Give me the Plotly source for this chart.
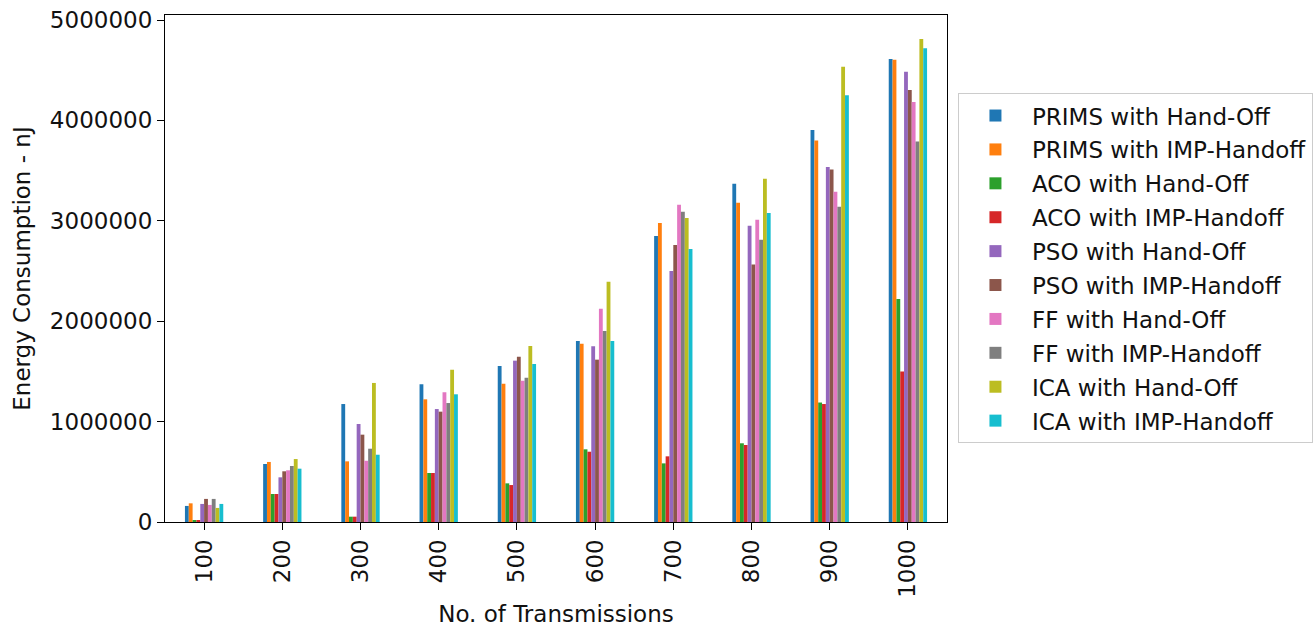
import plotly.graph_objects as go

categories = ["100", "200", "300", "400", "500", "600", "700", "800", "900", "1000"]

series_names = [
    "PRIMS with Hand-Off",
    "PRIMS with IMP-Handoff",
    "ACO with Hand-Off",
    "ACO with IMP-Handoff",
    "PSO with Hand-Off",
    "PSO with IMP-Handoff",
    "FF with Hand-Off",
    "FF with IMP-Handoff",
    "ICA with Hand-Off",
    "ICA with IMP-Handoff",
]

prims_handoff = [160000, 578000, 1175000, 1371000, 1554000, 1803000, 2849000, 3370000, 3905000, 4612000]
prims_imp     = [186000, 598000, 604000, 1222000, 1378000, 1776000, 2978000, 3180000, 3800000, 4605000]
aco_handoff   = [20000, 279000, 53000, 488000, 385000, 724000, 584000, 784000, 1190000, 2220000]
aco_imp       = [20000, 279000, 53000, 488000, 368000, 700000, 654000, 767000, 1175000, 1500000]
pso_handoff   = [180000, 445000, 976000, 1125000, 1607000, 1750000, 2500000, 2951000, 3535000, 4485000]
pso_imp       = [230000, 505000, 870000, 1099000, 1647000, 1617000, 2759000, 2566000, 3510000, 4303000]
ff_handoff    = [170000, 515000, 610000, 1292000, 1408000, 2125000, 3160000, 3011000, 3290000, 4183000]
ff_imp        = [230000, 558000, 730000, 1185000, 1438000, 1902000, 3090000, 2812000, 3140000, 3790000]
ica_handoff   = [140000, 627000, 1385000, 1517000, 1753000, 2394000, 3028000, 3420000, 4535000, 4810000]
ica_imp       = [180000, 531000, 670000, 1272000, 1574000, 1803000, 2719000, 3078000, 4250000, 4718000]

series_values = [prims_handoff, prims_imp, aco_handoff, aco_imp, pso_handoff,
                 pso_imp, ff_handoff, ff_imp, ica_handoff, ica_imp]

colors = ["#1f77b4", "#ff7f0e", "#2ca02c", "#d62728", "#9467bd",
          "#8c564b", "#e377c2", "#7f7f7f", "#bcbd22", "#17becf"]

y_ticks = [0, 1000000, 2000000, 3000000, 4000000, 5000000]

fig = go.Figure()
for i, (name, vals) in enumerate(zip(series_names, series_values)):
    fig.add_trace(go.Bar(
        x=categories, y=vals, name=name,
        marker=dict(color=colors[i], line=dict(width=0)),
        legendgroup=f"g{i}",
    ))

font = "DejaVu Sans, Liberation Sans, sans-serif"
fs = 23
tc = "#111"

fig.update_layout(
    width=1313, height=627,
    margin=dict(l=165, r=366, t=15, b=105, autoexpand=False),
    barmode="group", bargap=0.51, bargroupgap=0,
    plot_bgcolor="white", paper_bgcolor="white",
    font=dict(family=font, size=fs, color=tc),
    legend=dict(
        x=1.014, y=0.846, xanchor="left", yanchor="top",
        bordercolor="#cccccc", borderwidth=1, bgcolor="white",
        font=dict(family=font, size=fs, color=tc),
        traceorder="grouped", tracegroupgap=1,
        itemwidth=63,
    ),
    xaxis=dict(
        type="category", range=[-0.5, 9.5], automargin=False,
        showline=True, linecolor="black", linewidth=1.2, mirror=True,
        ticks="outside", ticklen=7, tickwidth=1.2, tickcolor="black",
        tickangle=-90, tickfont=dict(size=fs, color=tc),
        showgrid=False,
        title=dict(text="No. of Transmissions", font=dict(size=fs, color=tc), standoff=13),
    ),
    yaxis=dict(
        range=[0, 5050000], automargin=False,
        tickvals=y_ticks, ticktext=[str(v) for v in y_ticks],
        showline=True, linecolor="black", linewidth=1.2, mirror=True,
        ticks="outside", ticklen=7, tickwidth=1.2, tickcolor="black",
        tickfont=dict(size=fs, color=tc),
        showgrid=False, zeroline=False,
        title=dict(text="Energy Consumption - nJ", font=dict(size=fs, color=tc), standoff=12),
    ),
)

fig.write_html("out.html")
